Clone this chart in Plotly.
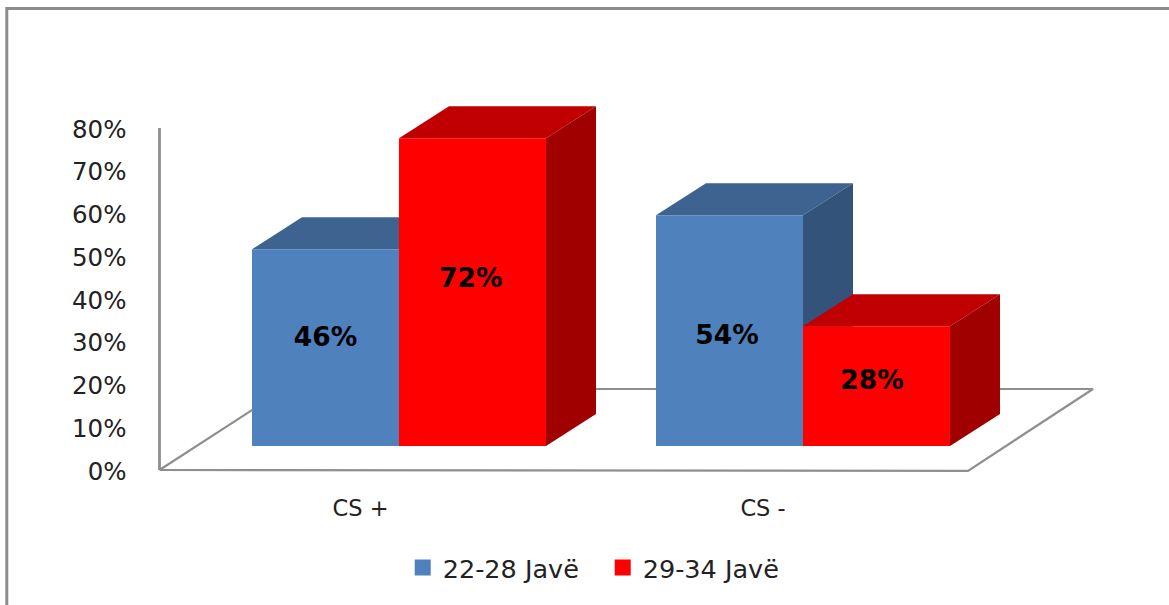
import plotly.graph_objects as go

# Chart data
categories = ["CS +", "CS -"]
series_names = ["22-28 Javë", "29-34 Javë"]
values_early = [46, 54]
values_late = [72, 28]
label_heights_early = [25.05, 25.35]
label_heights_late = [38.85, 14.85]
y_ticks = [0, 10, 20, 30, 40, 50, 60, 70, 80]
y_tick_labels = [f"{t}%" for t in y_ticks]

# Canvas and axis geometry
WIDTH, HEIGHT = 1169, 605
PX_PER_CATEGORY = 404.0
FIRST_CATEGORY_PX = 399.0
PX_PER_PERCENT = 4.275
ZERO_PX = 470.0
FRONT_ZERO_PX = 446.0

x_range = [-FIRST_CATEGORY_PX / PX_PER_CATEGORY, (WIDTH - FIRST_CATEGORY_PX) / PX_PER_CATEGORY]
y_range = [-(HEIGHT - ZERO_PX) / PX_PER_PERCENT, ZERO_PX / PX_PER_PERCENT]
lift = (ZERO_PX - FRONT_ZERO_PX) / PX_PER_PERCENT

BAR_WIDTH = 147.0 / PX_PER_CATEGORY
DEPTH_X = 50 / PX_PER_CATEGORY
DEPTH_Y = 32 / PX_PER_PERCENT

FLOOR_LEFT = (159.5 - FIRST_CATEGORY_PX) / PX_PER_CATEGORY
FLOOR_RIGHT = (968 - FIRST_CATEGORY_PX) / PX_PER_CATEGORY
FLOOR_DEPTH_X = 125 / PX_PER_CATEGORY
FLOOR_DEPTH_Y = 81 / PX_PER_PERCENT
AXIS_GREY = "#8f8f8f"
TEXT_COLOUR = "#222222"

BLUE, BLUE_TOP, BLUE_SIDE = "#4f81bd", "#3e6390", "#33537a"
RED, RED_TOP, RED_SIDE = "#ff0000", "#c00000", "#a00000"

fig = go.Figure()

# Floor outline and the vertical value axis line
fig.add_trace(go.Scatter(
    x=[FLOOR_LEFT, FLOOR_RIGHT, FLOOR_RIGHT + FLOOR_DEPTH_X, FLOOR_LEFT + FLOOR_DEPTH_X, FLOOR_LEFT],
    y=[0, -0.2, FLOOR_DEPTH_Y, FLOOR_DEPTH_Y, 0],
    mode="lines", line=dict(color=AXIS_GREY, width=2.2),
    showlegend=False, hoverinfo="skip",
))
fig.add_trace(go.Scatter(
    x=[FLOOR_LEFT, FLOOR_LEFT], y=[0, 80],
    mode="lines", line=dict(color=AXIS_GREY, width=2.8),
    showlegend=False, hoverinfo="skip",
))


def add_depth_faces(left_edges, values, top_colour, side_colour):
    """Top and right-hand faces of each column, extruded from its value."""
    for left, value in zip(left_edges, values):
        right = left + BAR_WIDTH
        top = value + lift
        fig.add_trace(go.Scatter(
            x=[left, right, right + DEPTH_X, left + DEPTH_X, left],
            y=[top, top, top + DEPTH_Y, top + DEPTH_Y, top],
            mode="lines", fill="toself", fillcolor=top_colour,
            line=dict(width=0), showlegend=False, hoverinfo="skip",
        ))
        fig.add_trace(go.Scatter(
            x=[right, right + DEPTH_X, right + DEPTH_X, right, right],
            y=[top, top + DEPTH_Y, lift + DEPTH_Y, lift, top],
            mode="lines", fill="toself", fillcolor=side_colour,
            line=dict(width=0), showlegend=False, hoverinfo="skip",
        ))


positions = list(range(len(categories)))
add_depth_faces([p - BAR_WIDTH for p in positions], values_early, BLUE_TOP, BLUE_SIDE)
add_depth_faces(positions, values_late, RED_TOP, RED_SIDE)

# Front faces sit on an overlay axis whose zero is the front edge of the floor
fig.add_trace(go.Bar(x=positions, y=values_early, name=series_names[0], legendgroup="early",
                     marker=dict(color=BLUE, line=dict(width=0)), showlegend=False,
                     xaxis="x2", yaxis="y2"))
fig.add_trace(go.Bar(x=positions, y=values_late, name=series_names[1], legendgroup="late",
                     marker=dict(color=RED, line=dict(width=0)), showlegend=False,
                     xaxis="x2", yaxis="y2"))

# Legend keys: square markers give a larger swatch than the default bar key
for name, colour, group in zip(series_names, [BLUE, RED], ["early", "late"]):
    fig.add_trace(go.Scatter(x=[None], y=[None], mode="markers", name=name, legendgroup=group,
                             marker=dict(symbol="square", size=16, color=colour),
                             xaxis="x2", yaxis="y2", hoverinfo="skip"))

label_font = dict(family="DejaVu Sans", size=26.5, color="#000000", weight="bold")
fig.add_trace(go.Scatter(
    x=[-BAR_WIDTH / 2, 1 - BAR_WIDTH / 2 - 0.006], y=label_heights_early,
    text=[f"{v}%" for v in values_early], mode="text", textposition="middle center",
    textfont=label_font, xaxis="x2", yaxis="y2", showlegend=False, hoverinfo="skip",
))
fig.add_trace(go.Scatter(
    x=[BAR_WIDTH / 2 - 0.004, 1 + BAR_WIDTH / 2 - 0.011], y=label_heights_late,
    text=[f"{v}%" for v in values_late], mode="text", textposition="middle center",
    textfont=label_font, xaxis="x2", yaxis="y2", showlegend=False, hoverinfo="skip",
))

fig.update_layout(
    width=WIDTH, height=HEIGHT,
    margin=dict(l=0, r=0, t=0, b=0),
    paper_bgcolor="white", plot_bgcolor="white",
    barmode="group", bargap=1 - 2 * BAR_WIDTH, bargroupgap=0,
    showlegend=True,
    legend=dict(orientation="h", x=0.3445, xanchor="left", y=(HEIGHT - 568) / HEIGHT, yanchor="middle",
                font=dict(family="DejaVu Sans", size=25.5, color=TEXT_COLOUR),
                entrywidth=155, entrywidthmode="pixels",
                bgcolor="rgba(0,0,0,0)", itemclick=False, itemdoubleclick=False),
    xaxis=dict(
        range=x_range, domain=[0, 1], tickmode="array",
        tickvals=[-0.095, 0.901], ticktext=categories,
        anchor="free", position=(HEIGHT - ZERO_PX) / HEIGHT,
        ticklabelstandoff=22, ticks="", showline=False, showgrid=False, zeroline=False,
        tickfont=dict(family="DejaVu Sans", size=22.5, color=TEXT_COLOUR),
    ),
    yaxis=dict(
        range=y_range, domain=[0, 1], tickmode="array",
        tickvals=[t - 0.25 for t in y_ticks], ticktext=y_tick_labels,
        anchor="free", position=159.5 / WIDTH,
        ticklabelstandoff=33, ticks="", showline=False, showgrid=False, zeroline=False,
        tickfont=dict(family="DejaVu Sans", size=24.5, color=TEXT_COLOUR),
    ),
    xaxis2=dict(overlaying="x", range=x_range, visible=False),
    yaxis2=dict(overlaying="y", visible=False,
                range=[y_range[0] - lift, y_range[1] - lift]),
    shapes=[dict(type="path", xref="paper", yref="paper",
                 path=f"M {6.8 / WIDTH} 0 L {6.8 / WIDTH} {(HEIGHT - 8.5) / HEIGHT} L 1 {(HEIGHT - 8.5) / HEIGHT}",
                 line=dict(color="#8c8c8c", width=3), layer="below")],
)

fig.write_html("out.html")
